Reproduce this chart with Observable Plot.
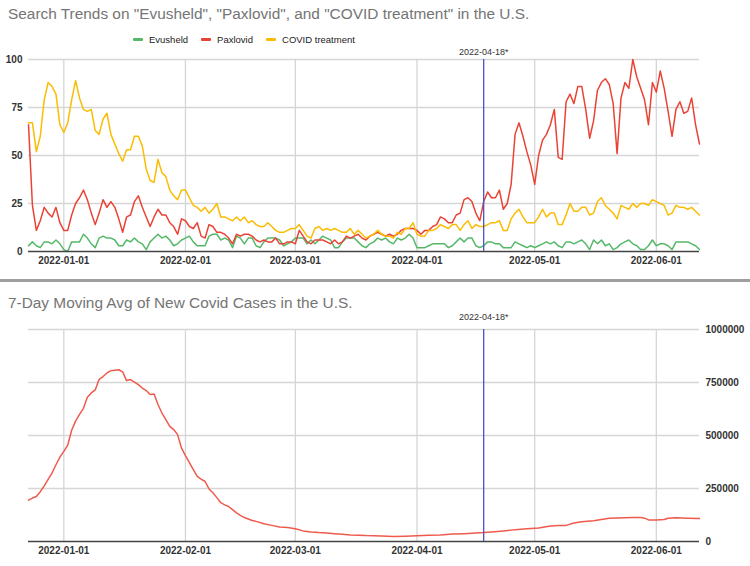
<!DOCTYPE html>
<html><head><meta charset="utf-8">
<script src="https://cdn.jsdelivr.net/npm/d3@7"></script>
<script src="https://cdn.jsdelivr.net/npm/@observablehq/plot@0.6"></script>
<style>
body{margin:0;background:#fff;font-family:"Liberation Sans",Arial,sans-serif;}
#wrap{position:relative;width:750px;height:566px;overflow:hidden;background:#fff;}
.title{position:absolute;left:8px;font-size:15.4px;line-height:20px;color:#757575;white-space:nowrap;}
#legend{position:absolute;top:31px;left:133px;height:16px;display:flex;align-items:center;font-size:9.5px;color:#222;white-space:nowrap;}
.item{display:flex;align-items:center;margin-right:13px;}
.sw{width:10px;height:3px;border-radius:1px;margin-right:6px;}
#top{position:absolute;top:46px;left:0;}
#sep{position:absolute;top:279px;left:0;width:750px;height:3px;background:#9e9e9e;}
#bottom{position:absolute;top:311px;left:0;}
</style></head>
<body>
<div id="wrap">
  <div class="title" style="top:4px">Search Trends on "Evusheld", "Paxlovid", and "COVID treatment" in the U.S.</div>
  <div id="legend"></div>
  <div id="top"></div>
  <div id="sep"></div>
  <div class="title" style="top:293px">7-Day Moving Avg of New Covid Cases in the U.S.</div>
  <div id="bottom"></div>
</div>
<script>
// ---- data ----
const startDate = "2021-12-23";   // first day of the daily series
const endDate = "2022-06-12";
const markerDate = "2022-04-18";
const markerLabel = "2022-04-18*";
const monthTickLabels = ["2022-01-01","2022-02-01","2022-03-01","2022-04-01","2022-05-01","2022-06-01"];
const searchTicks = [0, 25, 50, 75, 100];
const caseTicks = [0, 250000, 500000, 750000, 1000000];

const seriesNames = ["Evusheld", "Paxlovid", "COVID treatment"];
const seriesColors = ["#55b868", "#ea4335", "#fbbc04"];

const evusheld = [
 3,5,3,2,5,5,4,6,4,1,
 0,5,5,5,9,7,4,2,7,8,
 7,7,6,3,3,6,5,7,5,4,
 1,5,7,9,7,8,6,3,4,6,
 7,8,5,3,3,3,8,9,9,6,
 7,6,2,8,7,4,7,7,3,2,
 5,7,7,7,6,3,4,5,7,7,
 7,4,6,4,6,8,7,6,2,2,
 5,7,7,7,5,3,2,4,5,7,
 6,7,5,4,7,6,7,9,7,2,
 2,2,3,4,4,4,4,2,3,5,
 7,5,7,7,3,2,3,5,5,4,
 4,2,2,2,5,4,3,2,3,2,
 3,4,5,4,5,3,2,5,5,4,
 5,6,4,1,6,4,6,3,4,1,
 2,4,5,6,4,3,1,1,3,6,
 3,4,4,3,1,5,5,5,5,4,
 3,1];

const paxlovid = [
 66,24,11,16,23,20,18,23,15,11,
 11,19,25,28,32,27,20,14,20,27,
 23,26,23,17,10,18,19,26,29,23,
 18,13,18,22,19,19,15,13,9,17,
 16,13,12,15,8,7,14,13,10,10,
 9,7,4,9,8,9,9,8,6,5,
 6,5,5,7,4,4,5,5,4,11,
 8,5,4,6,6,6,5,4,6,4,
 5,8,7,8,9,7,6,8,9,10,
 9,8,9,8,9,11,12,12,12,11,
 9,11,11,13,14,18,17,15,15,19,
 20,27,28,26,20,16,26,31,28,28,
 32,22,25,35,61,67,60,52,45,35,
 50,58,61,66,74,49,48,78,82,77,
 86,86,74,59,68,84,88,90,87,77,
 51,80,88,85,100,91,85,79,66,88,
 83,94,85,73,60,74,78,72,73,80,
 66,56];

const covidTreatment = [
 67,67,52,60,79,88,86,82,66,62,
 67,79,89,80,74,73,74,63,61,69,
 72,61,56,51,47,53,53,60,60,55,
 43,37,36,48,41,39,32,29,27,32,
 32,28,24,23,21,23,20,22,25,18,
 18,17,16,18,16,18,15,16,14,13,
 13,15,13,11,10,10,11,12,12,14,
 11,8,7,12,13,11,12,11,12,11,
 10,10,12,9,11,9,7,8,9,11,
 9,8,8,7,10,9,12,12,15,9,
 8,8,11,11,12,14,13,12,14,14,
 11,14,16,12,14,13,13,14,15,15,
 16,11,11,17,20,22,18,15,15,15,
 18,22,18,20,20,14,14,19,25,21,
 21,23,23,19,20,26,28,24,22,20,
 17,24,23,22,25,23,25,25,24,27,
 26,25,24,19,20,24,23,23,22,23,
 21,19];

// 7-day moving average of new cases: day offset from startDate, value
const caseDayOffsets = [0,1,2,3,4,5,6,7,8,9,10,11,12,13,14,15,16,17,18,19,20,21,22,23,24,25,26,27,28,29,30,31,32,33,34,35,36,37,38,39,40,41,42,43,44,45,46,47,48,49,50,51,52,53,54,55,56,57,58,60,62,64,66,68,70,72,74,76,78,80,82,84,86,88,90,93,96,99,102,105,108,111,114,116,118,121,124,127,130,133,135,137,139,141,144,146,148,150,152,154,156,157,158,160,162,163,165,168,171];
const caseValues = [195000,205000,212000,235000,262000,293000,323000,362000,398000,425000,455000,525000,568000,600000,628000,680000,701000,715000,765000,778000,795000,806000,808000,810000,800000,759000,764000,752000,740000,724000,712000,693000,696000,646000,606000,575000,543000,528000,504000,440000,405000,372000,339000,307000,294000,283000,248000,230000,207000,183000,173000,165000,150000,135000,123000,113000,106000,99000,95000,84000,76000,68000,66000,60000,50000,45000,42000,40000,37000,34000,31000,30000,28000,27000,26000,24000,25000,27000,29000,31000,35000,37000,40000,42000,45000,50000,56000,60000,64000,73000,75000,76000,87000,93000,98000,104000,110000,111000,112000,113000,113000,110000,102000,101000,104000,110000,112000,110000,108000];

// ---- build ----
const parse = d3.utcParse("%Y-%m-%d");
const fmt = d3.utcFormat("%Y-%m-%d");
const start = parse(startDate), end = parse(endDate), marker = parse(markerDate);
const monthTicks = monthTickLabels.map(parse);
const seriesArrays = [evusheld, paxlovid, covidTreatment];
const searchData = seriesArrays.map((arr, s) => arr.map((v, i) => ({date: d3.utcDay.offset(start, i), value: v, series: seriesNames[s]})));
const caseData = caseDayOffsets.map((o, i) => ({date: d3.utcDay.offset(start, o), value: caseValues[i]}));

// legend
const leg = document.getElementById("legend");
seriesNames.forEach((n, i) => {
  const it = document.createElement("div"); it.className = "item";
  it.innerHTML = `<span class="sw" style="background:${seriesColors[i]}"></span><span>${n}</span>`;
  leg.appendChild(it);
});

const gridColor = "#d6d6d6";
const markerColor = "#4a52c4";
const style = {fontFamily: "'Liberation Sans', Arial, sans-serif", fontSize: "10px", color: "#333", background: "transparent", overflow: "visible"};

const topPlot = Plot.plot({
  width: 750, height: 234, marginTop: 13, marginBottom: 29, marginLeft: 28, marginRight: 51,
  style,
  x: {type: "utc", domain: [start, end]},
  y: {domain: [0, 100]},
  marks: [
    Plot.gridX(monthTicks, {stroke: gridColor, strokeOpacity: 1, strokeWidth: 1.3}),
    Plot.gridY(searchTicks.filter(t => t > 0), {stroke: gridColor, strokeOpacity: 1, strokeWidth: 1.3}),
    ...searchData.map((d, s) => Plot.lineY(d, {x: "date", y: "value", stroke: seriesColors[s], strokeWidth: 1.5})),
    Plot.ruleY([0], {stroke: "#444", strokeWidth: 1.6}),
    Plot.ruleX([marker], {stroke: markerColor, strokeWidth: 1.3}),
    Plot.text([marker], {x: d => d, y: () => 100, text: () => markerLabel, dy: -7, fontSize: 9, fill: "#333"}),
    Plot.axisX({ticks: monthTicks, tickFormat: fmt, tickSize: 0, tickPadding: 5, label: null, fontSize: 10, fontWeight: 600, fill: "#333"}),
    Plot.axisY({ticks: searchTicks, tickSize: 0, tickPadding: 6, label: null, fontSize: 10, fontWeight: 600, fill: "#333"})
  ]
});
document.getElementById("top").appendChild(topPlot);

const bottomPlot = Plot.plot({
  width: 750, height: 255, marginTop: 18, marginBottom: 25, marginLeft: 28, marginRight: 51,
  style,
  x: {type: "utc", domain: [start, end]},
  y: {domain: [0, 1000000]},
  marks: [
    Plot.gridX(monthTicks, {stroke: gridColor, strokeOpacity: 1, strokeWidth: 1.3}),
    Plot.gridY(caseTicks.filter(t => t > 0), {stroke: gridColor, strokeOpacity: 1, strokeWidth: 1.3}),
    Plot.lineY(caseData, {x: "date", y: "value", stroke: "#ef5a4c", strokeWidth: 1.5}),
    Plot.ruleY([0], {stroke: "#444", strokeWidth: 1.6}),
    Plot.ruleX([marker], {stroke: markerColor, strokeWidth: 1.3}),
    Plot.text([marker], {x: d => d, y: () => 1000000, text: () => markerLabel, dy: -12, fontSize: 9, fill: "#333"}),
    Plot.axisX({ticks: monthTicks, tickFormat: fmt, tickSize: 0, tickPadding: 5, label: null, fontSize: 10, fontWeight: 600, fill: "#333"}),
    Plot.axisY({anchor: "right", ticks: caseTicks, tickFormat: d => String(d), tickSize: 0, tickPadding: 6, label: null, fontSize: 10, fontWeight: 600, fill: "#333"})
  ]
});
document.getElementById("bottom").appendChild(bottomPlot);
</script>
</body></html>
